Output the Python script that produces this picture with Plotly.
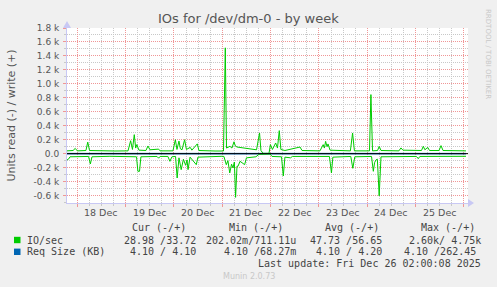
import pandas as pd
import plotly.graph_objects as go

# ---------------- data (hours relative to 2025-12-18 00:00) ----------------
write_hours = [-5.1, -2.1, -1.0, 0.0, 4.3, 5.2, 6.1, 11.3, 18.7, 25.2, 26.5, 27.4, 28.3, 29.0,
               29.6, 30.6, 34.1, 35.1, 36.1, 40.4, 41.1, 47.5, 48.7, 49.5, 50.5, 51.2, 52.0,
               53.3, 54.2, 56.1, 56.9, 59.6, 60.4, 68.4, 72.6, 73.5, 74.1, 75.8, 76.8, 77.8,
               78.5, 79.3, 83.3, 89.0, 90.5, 91.2, 92.2, 95.2, 95.9, 96.9, 98.5, 99.4, 100.3,
               101.1, 103.1, 109.2, 110.6, 111.6, 120.5, 122.1, 122.7, 123.3, 124.0, 124.5,
               125.5, 135.6, 136.7, 137.6, 145.1, 145.8, 146.6, 149.1, 149.9, 150.8, 159.7,
               160.7, 161.7, 170.9, 171.8, 172.6, 174.0, 174.9, 179.6, 180.6, 181.6, 193.0]
write_values = [40, 45, 75, 40, 45, 165, 45, 40, 38, 40, 185, 60, 272, 80,
                130, 50, 45, 110, 55, 65, 40, 40, 200, 60, 180, 70, 55,
                200, 60, 90, 50, 140, 45, 38, 38, 1516, 80, 105, 80, 170,
                110, 95, 75, 55, 296, 45, 5, 5, 129, 60, 153, 80, 330,
                60, 45, 82, 95, 45, 40, 129, 80, 176, 100, 139,
                50, 40, 296, 40, 40, 846, 40, 45, 105, 45, 40,
                82, 50, 45, 105, 55, 90, 45, 45, 115, 45, 40]

read_hours = [-5.1, -4.4, -3.6, 5.6, 6.5, 7.3, 16.2, 26.2, 29.4, 30.1, 30.9, 31.6, 39.6, 40.4,
              41.1, 45.0, 46.0, 47.0, 48.8, 49.6, 50.5, 51.6, 52.7, 53.8, 54.5, 55.0, 56.0,
              59.1, 59.9, 71.8, 72.8, 74.0, 74.8, 75.7, 76.6, 77.3, 78.0, 78.6, 79.3, 79.8,
              80.8, 81.8, 83.1, 84.0, 88.7, 90.2, 92.2, 95.7, 96.7, 101.4, 102.3, 103.1,
              105.9, 106.8, 125.2, 126.2, 126.9, 135.8, 136.8, 137.8, 146.1, 147.0, 147.6,
              148.3, 149.0, 149.9, 150.8, 168.4, 169.3, 170.1, 193.0]
read_values = [-90, -80, -45, -40, -148, -45, -38, -40, -45, -253, -253, -45, -40, -65,
               -40, -40, -110, -45, -40, -349, -60, -229, -80, -167, -90, -229, -50,
               -158, -50, -38, -40, -158, -100, -277, -150, -205, -120, -626, -180, -181,
               -110, -130, -158, -60, -45, -10, -5, -5, -40, -45, -320, -50,
               -60, -40, -40, -277, -50, -40, -210, -45, -40, -253, -130,
               -90, -80, -605, -45, -40, -72, -40, -38]

reqsize_hours = [-5.1, 193.0]
reqsize_write = [4.10, 4.10]
reqsize_read = [-4.10, -4.10]

day_labels = ["18 Dec", "19 Dec", "20 Dec", "21 Dec", "22 Dec", "23 Dec", "24 Dec", "25 Dec"]
y_tick_values = [-600, -400, -200, 0, 200, 400, 600, 800, 1000, 1200, 1400, 1600, 1800]
y_tick_labels = ["-0.6 k", "-0.4 k", "-0.2 k", "0.0", "0.2 k", "0.4 k", "0.6 k", "0.8 k",
                 "1.0 k", "1.2 k", "1.4 k", "1.6 k", "1.8 k"]

legend_header = ["Cur (-/+)", "Min (-/+)", "Avg (-/+)", "Max (-/+)"]
legend_rows = [
    ("IO/sec", "#00cc00", ["28.98 /33.72", "202.02m/711.11u", "47.73 /56.65", "2.60k/ 4.75k"]),
    ("Req Size (KB)", "#0066b3", ["4.10 / 4.10", "4.10 /68.27m", "4.10 / 4.20", "4.10 /262.45"]),
]
last_update = "Last update: Fri Dec 26 02:00:08 2025"

# ---------------- figure ----------------
base = pd.Timestamp("2025-12-18 00:00")
to_time = lambda hs: [base + pd.Timedelta(hours=h) for h in hs]

W, H = 497, 287
L, R, T, B = 67, 29, 28, 84
PW, PH = W - L - R, H - T - B

def px(x):
    return (x - L) / PW

def py(y):
    return (H - B - y) / PH

fig = go.Figure()
fig.add_trace(go.Scatter(x=to_time(reqsize_hours), y=reqsize_write, mode="lines",
                         line=dict(color="#0066b3", width=1), hoverinfo="skip"))
fig.add_trace(go.Scatter(x=to_time(reqsize_hours), y=reqsize_read, mode="lines",
                         line=dict(color="#0066b3", width=1), hoverinfo="skip"))
fig.add_trace(go.Scatter(x=to_time(write_hours), y=write_values, mode="lines",
                         line=dict(color="#00cc00", width=1), hoverinfo="skip"))
fig.add_trace(go.Scatter(x=to_time(read_hours), y=read_values, mode="lines",
                         line=dict(color="#00cc00", width=1), hoverinfo="skip"))

x_start = base - pd.Timedelta(hours=5.1)
x_end = pd.Timestamp("2025-12-26 02:00")
midnights = [base + pd.Timedelta(days=d) for d in range(0, 9)]
noons = [base + pd.Timedelta(days=d, hours=12) for d in range(len(day_labels))]

major = "rgb(240,150,150)"
minor = "rgb(200,200,200)"
axis_col = "#c8c8f4"
dots = "1px,1px"

fig.update_layout(
    width=W, height=H, margin=dict(l=L, r=R, t=T, b=B),
    paper_bgcolor="#f0f0f0", plot_bgcolor="#ffffff", showlegend=False,
    font=dict(family="DejaVu Sans", size=9, color="#555555"),
    xaxis=dict(range=[x_start, x_end], tickmode="array", tickvals=midnights,
               showticklabels=False, showgrid=True, gridcolor=major, griddash=dots,
               gridwidth=1, ticks="outside", ticklen=3, tickcolor=major,
               showline=True, linecolor=axis_col, linewidth=1, zeroline=False,
               minor=dict(dtick=6 * 3600 * 1000, tick0=base, showgrid=True,
                          gridcolor=minor, griddash=dots, ticks="outside",
                          ticklen=2, tickcolor=minor)),
    yaxis=dict(range=[-707, 1800], tickmode="array", tickvals=y_tick_values,
               ticktext=y_tick_labels, showgrid=True, gridcolor=major, griddash=dots,
               ticks="outside", ticklen=3, tickcolor=major, ticklabelstandoff=2,
               showline=True, linecolor=axis_col, linewidth=1, zeroline=False,
               tickfont=dict(size=9, color="#555555"),
               minor=dict(dtick=100, tick0=0, showgrid=True, gridcolor=minor,
                          griddash=dots, ticks="outside", ticklen=2, tickcolor=minor)),
)

# zero line
fig.add_shape(type="line", xref="paper", yref="y", x0=0, x1=1, y0=0, y1=0,
              line=dict(color="#000000", width=1), layer="above")
# axis arrows
fig.add_shape(type="path", xref="paper", yref="paper",
              path=f"M {px(63)} {py(28)} L {px(71)} {py(28)} L {px(67)} {py(21)} Z",
              fillcolor=axis_col, line=dict(width=0))
fig.add_shape(type="path", xref="paper", yref="paper",
              path=f"M {px(468)} {py(199)} L {px(468)} {py(207)} L {px(474)} {py(203)} Z",
              fillcolor=axis_col, line=dict(width=0))

ann = []
for t, lab in zip(noons, day_labels):
    ann.append(dict(x=t, xref="x", y=py(212.5), yref="paper", text=lab, showarrow=False,
                    font=dict(size=9.5, color="#555555"), xanchor="center", yanchor="middle"))

ann.append(dict(x=px(248.5), y=py(18.5), xref="paper", yref="paper",
                text="IOs for /dev/dm-0 - by week", showarrow=False,
                font=dict(size=13, color="#555555"), xanchor="center", yanchor="middle"))
ann.append(dict(x=px(10.5), y=py(116), xref="paper", yref="paper",
                text="Units read (-) / write (+)", showarrow=False, textangle=-90,
                font=dict(size=11, color="#555555"), xanchor="center", yanchor="middle"))
ann.append(dict(x=px(488), y=py(8), xref="paper", yref="paper",
                text="RRDTOOL / TOBI OETIKER", showarrow=False, textangle=90,
                font=dict(size=7, color="#c8c8c8"), xanchor="center", yanchor="top"))

mono = "DejaVu Sans Mono"
header_right = [187, 284, 380, 476]
for txt, xr in zip(legend_header, header_right):
    ann.append(dict(x=px(xr), y=py(227.5), xref="paper", yref="paper", text=txt.replace(" ", "&nbsp;"),
                    showarrow=False, font=dict(family=mono, size=10, color="#444444"),
                    xanchor="right", yanchor="middle"))
row_y = [240, 251.8]
value_right = [[197, 297, 383, 482], [197, 297, 383, 477]]
for (name, col, vals), yy, rights in zip(legend_rows, row_y, value_right):
    fig.add_shape(type="rect", xref="paper", yref="paper",
                  x0=px(14), x1=px(20.5), y0=py(yy + 3.2), y1=py(yy - 3.2),
                  fillcolor=col, line=dict(width=0))
    ann.append(dict(x=px(26), y=py(yy), xref="paper", yref="paper", text=name.replace(" ", "&nbsp;"),
                    showarrow=False, font=dict(family=mono, size=10, color="#444444"),
                    xanchor="left", yanchor="middle"))
    for v, xr in zip(vals, rights):
        ann.append(dict(x=px(xr), y=py(yy), xref="paper", yref="paper", text=v.replace(" ", "&nbsp;"),
                        showarrow=False, font=dict(family=mono, size=10, color="#444444"),
                        xanchor="right", yanchor="middle"))
ann.append(dict(x=px(482), y=py(263.5), xref="paper", yref="paper", text=last_update.replace(" ", "&nbsp;"),
                showarrow=False, font=dict(family=mono, size=10, color="#444444"),
                xanchor="right", yanchor="middle"))
ann.append(dict(x=px(248.5), y=py(276), xref="paper", yref="paper", text="Munin 2.0.73",
                showarrow=False, font=dict(size=8, color="#c8c8c8"),
                xanchor="center", yanchor="middle"))

for a in ann:
    a.setdefault("borderpad", 0)
fig.update_layout(annotations=ann)

fig.write_html("out.html", config={"displayModeBar": False})
